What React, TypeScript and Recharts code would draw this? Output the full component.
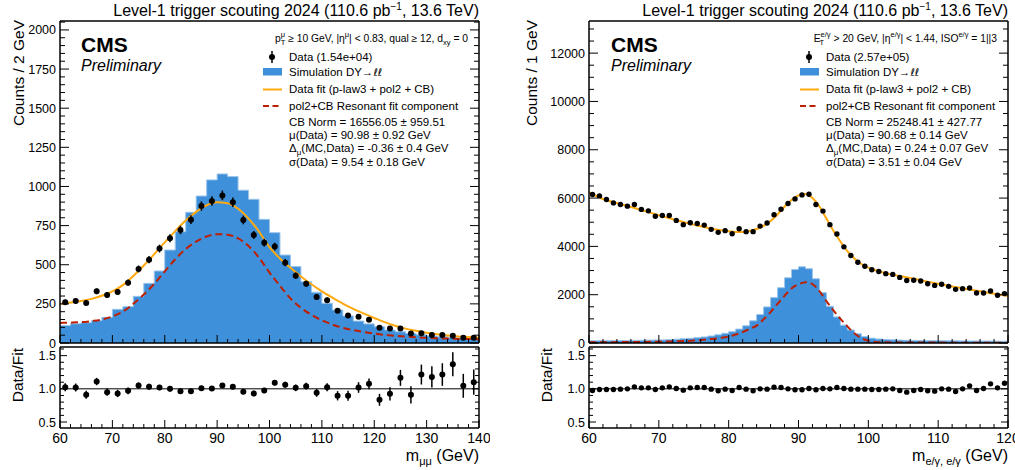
import React from "react";
import { Area, ComposedChart, ErrorBar, Line, ReferenceLine, Scatter, XAxis, YAxis } from "recharts";

const FONT = "'Liberation Sans', Arial, Helvetica, sans-serif";
const BLUE = "#3f90da";
const ORANGE = "#ffa90e";
const RED = "#bd1f01";

const range = (a: number, b: number, s: number) => {
  const out: number[] = [];
  for (let v = a; v <= b + 1e-9; v += s) out.push(Math.round(v * 1000) / 1000);
  return out;
};

// ---- left panel: dimuon, 2 GeV bins, 60-140 ----
const muCenters = range(61, 139, 2);
const muEdges = range(60, 140, 2);
const muData = [260, 268, 256, 330, 307, 326, 385, 473, 532, 603, 669, 722, 788, 875, 907, 943, 899, 786, 690, 641,
  616, 513, 430, 379, 294, 273, 206, 175, 168, 149, 98, 92, 92, 60, 62, 51, 51, 47, 34, 34];
const muErr = [16, 16, 16, 18, 18, 18, 20, 22, 23, 25, 26, 27, 28, 30, 30, 31, 30, 28, 26, 25,
  25, 23, 21, 19, 17, 17, 14, 13, 13, 12, 10, 10, 10, 8, 8, 7, 7, 7, 6, 6];
const muSim = [111, 123, 130, 143, 164, 215, 232, 298, 381, 460, 594, 711, 835, 939, 1042, 1080, 1063, 976, 918, 790,
  705, 562, 488, 392, 324, 254, 211, 173, 140, 122, 104, 83, 72, 61, 52, 45, 40, 35, 32, 30];
const muFitX = range(60, 140, 2);
const muFit = [249, 258, 268, 282, 302, 330, 370, 428, 495, 568, 643, 715, 782, 838, 880, 899, 893, 858, 795, 712,
  612, 540, 480, 425, 375, 330, 290, 252, 218, 188, 160, 133, 110, 92, 78, 66, 56, 48, 42, 38, 34];
const muResX = range(60, 140, 2);
const muRes = [128, 130, 133, 140, 150, 170, 200, 250, 310, 378, 458, 535, 600, 648, 680, 695, 692, 668, 620, 545,
  450, 365, 285, 225, 180, 145, 118, 97, 82, 70, 60, 52, 46, 41, 36, 33, 30, 28, 26, 25, 24];
const muRatio = [1.025, 1.02, 0.91, 1.11, 0.95, 0.93, 0.97, 1.05, 1.03, 1.02, 1.0, 0.965, 0.965, 1.01, 1.005, 1.05, 1.03, 0.955, 0.93, 0.975,
  1.09, 1.06, 1.015, 1.04, 0.94, 1.025, 0.895, 0.895, 1.02, 1.075, 0.835, 0.925, 1.165, 0.91, 1.215, 1.18, 1.215, 1.37, 1.045, 1.1];
const muRatioErr = [0.06, 0.06, 0.06, 0.055, 0.055, 0.055, 0.05, 0.045, 0.045, 0.04, 0.04, 0.035, 0.035, 0.035, 0.035, 0.033, 0.035, 0.035, 0.04, 0.04,
  0.04, 0.045, 0.05, 0.05, 0.06, 0.06, 0.07, 0.075, 0.08, 0.08, 0.09, 0.1, 0.12, 0.13, 0.15, 0.16, 0.17, 0.18, 0.18, 0.19];

// ---- right panel: e/gamma, 1 GeV bins, 60-120 ----
const egCenters = range(60.5, 119.5, 1);
const egEdges = range(60, 120, 1);
const egData = [6150, 6090, 5940, 5800, 5735, 5665, 5735, 5530, 5470, 5250, 5280, 5280, 5075, 4900, 4980, 4950, 4880, 4705, 4580, 4650,
  4525, 4730, 4610, 4610, 4840, 4965, 5310, 5540, 5775, 5965, 6130, 6160, 5735, 5460, 4900, 4515, 3980, 3620, 3345, 3180,
  3030, 2960, 2870, 2840, 2715, 2590, 2600, 2565, 2455, 2385, 2430, 2345, 2220, 2250, 2275, 2070, 2070, 2150, 1975, 2045];
const egSim = [95, 95, 98, 100, 102, 105, 108, 112, 118, 122, 128, 140, 155, 175, 195, 220, 250, 290, 340, 400,
  470, 576, 713, 919, 1180, 1495, 1880, 2290, 2700, 3045, 3155, 3075, 2660, 2085, 1520, 1080, 740, 540, 380, 270,
  200, 165, 145, 130, 120, 112, 106, 102, 98, 95, 92, 90, 88, 86, 84, 82, 80, 78, 76, 75];
const egFitX = [60, 62, 64, 66, 68, 70, 72, 74, 76, 78, 80, 81, 82, 83, 84, 85, 86, 87, 88, 89, 90, 91, 92, 93, 94, 95,
  96, 97, 98, 99, 100, 101, 102, 104, 106, 108, 110, 112, 114, 116, 118, 120];
const egFit = [6250, 5960, 5790, 5630, 5460, 5290, 5120, 4970, 4830, 4710, 4630, 4600, 4600, 4640, 4720, 4850, 5050, 5330, 5640, 5920,
  6110, 6170, 6000, 5650, 5150, 4650, 4200, 3800, 3500, 3270, 3120, 3010, 2930, 2800, 2690, 2570, 2450, 2340, 2240, 2140, 2040, 1950];
const egResX = [60, 64, 68, 72, 75, 77, 79, 80, 81, 82, 83, 84, 85, 86, 87, 88, 89, 90, 91, 92, 93, 94, 95, 96, 97, 98, 99,
  100, 101, 102, 106, 112, 120];
const egRes = [30, 35, 45, 65, 100, 150, 215, 270, 350, 450, 580, 720, 980, 1280, 1620, 1950, 2260, 2430, 2520, 2440, 2150, 1730, 1350,
  1000, 690, 400, 200, 95, 45, 28, 20, 15, 12];
const egRatio = [0.975, 0.99, 0.99, 0.99, 0.995, 1.0, 1.03, 1.015, 1.015, 0.99, 1.015, 1.03, 1.005, 0.98, 1.015, 1.02, 1.02, 0.995, 0.97, 0.995,
  0.975, 1.02, 0.995, 0.97, 1.0, 0.995, 1.025, 1.02, 1.0, 0.985, 0.985, 1.005, 0.985, 1.005, 1.0, 1.02, 1.005, 0.995, 0.995, 0.995,
  0.99, 0.99, 0.995, 1.0, 0.975, 0.95, 0.975, 0.99, 0.97, 0.965, 1.0, 0.995, 0.96, 1.0, 1.045, 0.975, 1.005, 1.075, 1.015, 1.085];

// ticks
const muXMajor = range(60, 140, 10);
const muXMinor = range(60, 140, 2);
const egXMajor = range(60, 120, 10);
const egXMinor = range(60, 120, 2);
const muYMajor = range(0, 2000, 250);
const muYMinor = range(0, 2050, 50);
const egYMajor = range(0, 12000, 2000);
const egYMinor = range(0, 13000, 500);
const rYMajor = [0.5, 1.0, 1.5];
const rYMinor = range(0.5, 1.6, 0.1);

type Pt = { x: number; y: number; e?: number };
const zip = (xs: number[], ys: number[], es?: number[]): Pt[] =>
  xs.map((x, i) => ({ x, y: ys[i], e: es ? es[i] : 0 }));
const steps = (edges: number[], vals: number[]): Pt[] =>
  edges.map((x, i) => ({ x, y: vals[Math.min(i, vals.length - 1)] }));

type AxisOpts = {
  xd: [number, number]; yd: [number, number];
  xMaj: number[]; xMin: number[]; yMaj: number[]; yMin: number[];
  xLabels: boolean; yFmt: (v: number) => string;
  xLen: [number, number]; yLen: [number, number];
};

// ROOT-style ticks: pointing inward, long on majors, labels only on majors
function tickFn(side: "b" | "t" | "l" | "r", majors: number[], len: [number, number], label: ((v: number) => string) | null) {
  return (p: any) => {
    const v = Number(p.payload.value);
    const major = majors.some((m) => Math.abs(m - v) < 1e-6);
    const L = major ? len[0] : len[1];
    const { x, y } = p;
    let line;
    if (side === "b") line = <line x1={x} x2={x} y1={y} y2={y - L} stroke="#000" />;
    else if (side === "t") line = <line x1={x} x2={x} y1={y} y2={y + L} stroke="#000" />;
    else if (side === "l") line = <line x1={x} x2={x + L} y1={y} y2={y} stroke="#000" />;
    else line = <line x1={x} x2={x - L} y1={y} y2={y} stroke="#000" />;
    let text = null;
    if (major && label) {
      if (side === "b")
        text = <text x={x} y={y + 15} textAnchor="middle" fontSize={14} fontFamily={FONT} fill="#000">{label(v)}</text>;
      else
        text = <text x={x - 4} y={y + 4.5} textAnchor="end" fontSize={12.5} fontFamily={FONT} fill="#000">{label(v)}</text>;
    }
    return <g>{line}{text}</g>;
  };
}

function frame(o: AxisOpts) {
  const axisLine = { stroke: "#000", strokeWidth: 1.5 };
  return [
    <XAxis key="b" xAxisId="b" type="number" dataKey="x" domain={o.xd} allowDataOverflow ticks={o.xMin} interval={0}
      orientation="bottom" height={1} tickSize={0} tickMargin={0} tickLine={false} axisLine={axisLine}
      tick={tickFn("b", o.xMaj, o.xLen, o.xLabels ? (v) => String(v) : null)} />,
    <XAxis key="t" xAxisId="t" type="number" domain={o.xd} allowDataOverflow ticks={o.xMin} interval={0}
      orientation="top" height={1} tickSize={0} tickMargin={0} tickLine={false} axisLine={axisLine}
      tick={tickFn("t", o.xMaj, o.xLen, null)} />,
    <YAxis key="l" yAxisId="l" type="number" dataKey="y" domain={o.yd} allowDataOverflow ticks={o.yMin} interval={0}
      orientation="left" width={1} tickSize={0} tickMargin={0} tickLine={false} axisLine={axisLine}
      tick={tickFn("l", o.yMaj, o.yLen, o.yFmt)} />,
    <YAxis key="r" yAxisId="r" type="number" domain={o.yd} allowDataOverflow ticks={o.yMin} interval={0}
      orientation="right" width={1} tickSize={0} tickMargin={0} tickLine={false} axisLine={axisLine}
      tick={tickFn("r", o.yMaj, o.yLen, null)} />,
  ];
}

const dot = (r: number) => (p: any) => <circle cx={p.cx} cy={p.cy} r={r} fill="#000" />;

const ratioFmt = (v: number) => v.toFixed(1);
const intFmt = (v: number) => String(v);

function MainPanel(props: {
  width: number; xd: [number, number]; yd: [number, number];
  xMaj: number[]; xMin: number[]; yMaj: number[]; yMin: number[];
  hist: Pt[]; fit: Pt[]; res: Pt[]; data: Pt[]; errors: boolean; r: number; marginLeft: number; marginRight: number;
}) {
  return (
    <ComposedChart width={props.width} height={350} margin={{ top: 20, bottom: 6, left: props.marginLeft, right: props.marginRight }}>
      {frame({ xd: props.xd, yd: props.yd, xMaj: props.xMaj, xMin: props.xMin, yMaj: props.yMaj, yMin: props.yMin,
        xLabels: false, yFmt: intFmt, xLen: [8, 4], yLen: [9, 5] })}
      <Area xAxisId="b" yAxisId="l" data={props.hist} dataKey="y" type="stepAfter" fill={BLUE} fillOpacity={1}
        stroke="#9cc5ec" strokeWidth={1} isAnimationActive={false} />
      <Line xAxisId="b" yAxisId="l" data={props.fit} dataKey="y" type="monotone" stroke={ORANGE} strokeWidth={2}
        dot={false} isAnimationActive={false} />
      <Line xAxisId="b" yAxisId="l" data={props.res} dataKey="y" type="monotone" stroke={RED} strokeWidth={2}
        strokeDasharray="7 4" dot={false} isAnimationActive={false} />
      <Scatter xAxisId="b" yAxisId="l" data={props.data} dataKey="y" shape={dot(props.r)} isAnimationActive={false}>
        {props.errors && <ErrorBar dataKey="e" direction="y" width={0} stroke="#000" strokeWidth={1.5} />}
      </Scatter>
    </ComposedChart>
  );
}

function RatioPanel(props: {
  width: number; xd: [number, number]; xMaj: number[]; xMin: number[]; data: Pt[]; errors: boolean; r: number;
  marginLeft: number; marginRight: number;
}) {
  return (
    <ComposedChart width={props.width} height={130} margin={{ top: 6, bottom: 41, left: props.marginLeft, right: props.marginRight }}>
      {frame({ xd: props.xd, yd: [0.41, 1.63], xMaj: props.xMaj, xMin: props.xMin, yMaj: rYMajor, yMin: rYMinor,
        xLabels: true, yFmt: ratioFmt, xLen: [8, 4], yLen: [7, 4] })}
      <ReferenceLine xAxisId="b" yAxisId="l" y={1} stroke="#000" strokeWidth={1} />
      <Scatter xAxisId="b" yAxisId="l" data={props.data} dataKey="y" shape={dot(props.r)} isAnimationActive={false}>
        {props.errors && <ErrorBar dataKey="e" direction="y" width={0} stroke="#000" strokeWidth={1.5} />}
      </Scatter>
    </ComposedChart>
  );
}

const LFS = 11.5;

function Legend({ dx, header, dataLabel, stats }: { dx: number; header: React.ReactNode; dataLabel: string; stats: React.ReactNode[] }) {
  const tx = 289 + dx;
  const mx = 263 + dx;
  return (
    <g fontFamily={FONT} fill="#000">
      {header}
      <line x1={mx + 9} x2={mx + 9} y1={51} y2={63} stroke="#000" strokeWidth={1.5} />
      <circle cx={mx + 9} cy={57} r={3} fill="#000" />
      <text x={tx} y={61} fontSize={LFS}>{dataLabel}</text>
      <rect x={mx} y={68} width={19} height={7.5} fill={BLUE} />
      <text x={tx} y={76} fontSize={LFS}>Simulation DY→<tspan fontFamily="'DejaVu Sans', sans-serif" fontSize={10.5}>ℓℓ</tspan></text>
      <line x1={mx} x2={mx + 19} y1={89.5} y2={89.5} stroke={ORANGE} strokeWidth={2} />
      <text x={tx} y={93} fontSize={LFS}>Data fit (p-law3 + pol2 + CB)</text>
      <line x1={mx} x2={mx + 19} y1={106} y2={106} stroke={RED} strokeWidth={2} strokeDasharray="6 3.5" />
      <text x={tx} y={110} fontSize={LFS}>pol2+CB Resonant fit component</text>
      {stats.map((s, i) => (
        <text key={i} x={tx} y={125.5 + i * 13.4} fontSize={LFS}>{s}</text>
      ))}
    </g>
  );
}

export default function App() {
  return (
    <div style={{ position: "absolute", left: 0, top: 0, width: 1015, height: 470, background: "#fff", overflow: "hidden" }}>
      <div style={{ position: "absolute", left: 0, top: 0 }}>
        <MainPanel width={490} marginLeft={59} marginRight={10} xd={[60, 140]} yd={[0, 2057]}
          xMaj={muXMajor} xMin={muXMinor} yMaj={muYMajor} yMin={muYMinor}
          hist={steps(muEdges, muSim)} fit={zip(muFitX, muFit)} res={zip(muResX, muRes)}
          data={zip(muCenters, muData, muErr)} errors r={3} />
      </div>
      <div style={{ position: "absolute", left: 0, top: 340 }}>
        <RatioPanel width={490} marginLeft={59} marginRight={10} xd={[60, 140]} xMaj={muXMajor} xMin={muXMinor}
          data={zip(muCenters, muRatio, muRatioErr)} errors r={3} />
      </div>
      <div style={{ position: "absolute", left: 515, top: 0 }}>
        <MainPanel width={500} marginLeft={73} marginRight={6} xd={[60, 120]} yd={[0, 13330]}
          xMaj={egXMajor} xMin={egXMinor} yMaj={egYMajor} yMin={egYMinor}
          hist={steps(egEdges, egSim)} fit={zip(egFitX, egFit)} res={zip(egResX, egRes)}
          data={zip(egCenters, egData)} errors={false} r={2.7} />
      </div>
      <div style={{ position: "absolute", left: 515, top: 340 }}>
        <RatioPanel width={500} marginLeft={73} marginRight={6} xd={[60, 120]} xMaj={egXMajor} xMin={egXMinor}
          data={zip(egCenters, egRatio)} errors={false} r={2.7} />
      </div>

      <svg width={1015} height={470} style={{ position: "absolute", left: 0, top: 0, pointerEvents: "none" }}>
        <g fontFamily={FONT} fill="#000">
          <text x={479} y={16} fontSize={16} textAnchor="end">
            Level-1 trigger scouting 2024 (110.6 pb<tspan dy={-6} fontSize={10}>−1</tspan><tspan dy={6}>, 13.6 TeV)</tspan>
          </text>
          <text x={1008} y={16} fontSize={16} textAnchor="end">
            Level-1 trigger scouting 2024 (110.6 pb<tspan dy={-6} fontSize={10}>−1</tspan><tspan dy={6}>, 13.6 TeV)</tspan>
          </text>

          <text x={81} y={52} fontSize={21} fontWeight="bold">CMS</text>
          <text x={81} y={71} fontSize={16} fontStyle="italic">Preliminary</text>
          <text x={611} y={52} fontSize={21} fontWeight="bold">CMS</text>
          <text x={611} y={71} fontSize={16} fontStyle="italic">Preliminary</text>

          <text transform="translate(24,20) rotate(-90)" fontSize={15.5} textAnchor="end">Counts / 2 GeV</text>
          <text transform="translate(23,348) rotate(-90)" fontSize={15.5} textAnchor="end">Data/Fit</text>
          <text transform="translate(537,20) rotate(-90)" fontSize={15.5} textAnchor="end">Counts / 1 GeV</text>
          <text transform="translate(552,348) rotate(-90)" fontSize={15.5} textAnchor="end">Data/Fit</text>
          <text x={479} y={461} fontSize={16} textAnchor="end">
            m<tspan dy={4} fontSize={11}>μμ</tspan><tspan dy={-4}> (GeV)</tspan>
          </text>
          <text x={1008} y={461} fontSize={16} textAnchor="end">
            m<tspan dy={4} fontSize={11}>e/γ, e/γ</tspan><tspan dy={-4}> (GeV)</tspan>
          </text>
        </g>

        <Legend dx={0} dataLabel="Data (1.54e+04)"
          header={
            <text x={468} y={42} fontSize={10.3} textAnchor="end">
              p<tspan dy={-5} fontSize={7.5}>μ</tspan><tspan dx={-4.3} dy={8} fontSize={7.5}>T</tspan>
              <tspan dy={-3}> ≥ 10 GeV, |η</tspan><tspan dy={-5} fontSize={7.5}>μ</tspan>
              <tspan dy={5}>| &lt; 0.83, qual ≥ 12, d</tspan><tspan dy={3} fontSize={7.5}>xy</tspan>
              <tspan dy={-3}> = 0</tspan>
            </text>
          }
          stats={[
            "CB Norm = 16556.05 ± 959.51",
            "μ(Data) = 90.98 ± 0.92 GeV",
            <>Δ<tspan dy={3} fontSize={8}>μ</tspan><tspan dy={-3}>(MC,Data) = -0.36 ± 0.4 GeV</tspan></>,
            "σ(Data) = 9.54 ± 0.18 GeV",
          ]}
        />
        <Legend dx={537} dataLabel="Data (2.57e+05)"
          header={
            <text x={997} y={42} fontSize={10.3} textAnchor="end">
              E<tspan dy={-5} fontSize={7.5}>e/γ</tspan><tspan dx={-11} dy={8} fontSize={7.5}>T</tspan>
              <tspan dx={6.5} dy={-3}> &gt; 20 GeV, |η</tspan><tspan dy={-5} fontSize={7.5}>e/γ</tspan>
              <tspan dy={5}>| &lt; 1.44, ISO</tspan><tspan dy={-5} fontSize={7.5}>e/γ</tspan>
              <tspan dy={5}> = 1||3</tspan>
            </text>
          }
          stats={[
            "CB Norm = 25248.41 ± 427.77",
            "μ(Data) = 90.68 ± 0.14 GeV",
            <>Δ<tspan dy={3} fontSize={8}>μ</tspan><tspan dy={-3}>(MC,Data) = 0.24 ± 0.07 GeV</tspan></>,
            "σ(Data) = 3.51 ± 0.04 GeV",
          ]}
        />
      </svg>
    </div>
  );
}
